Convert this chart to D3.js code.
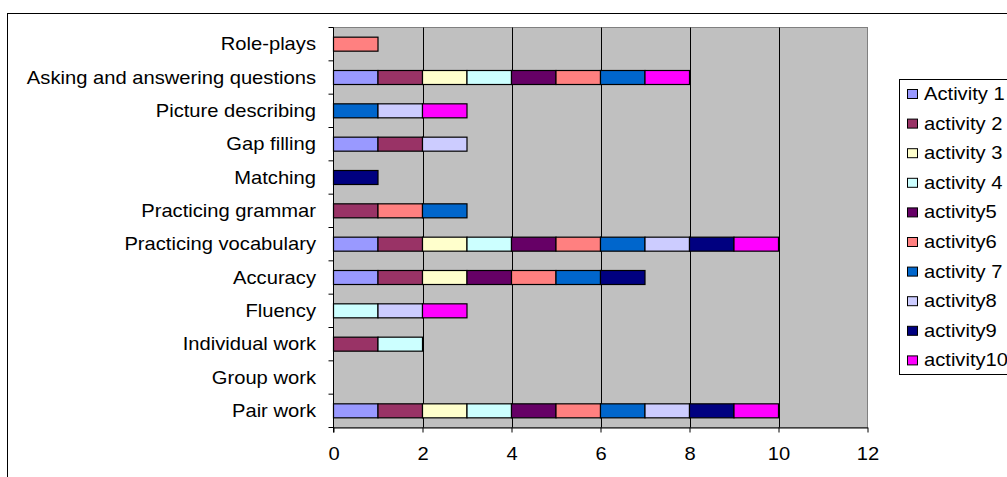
<!DOCTYPE html>
<html>
<head>
<meta charset="utf-8">
<script src="https://cdn.jsdelivr.net/npm/d3@7"></script>
<style>
  html, body { margin: 0; padding: 0; background: #fff; }
  svg { display: block; font-family: "Liberation Sans", Arial, sans-serif; }
</style>
</head>
<body>
<svg id="chart" width="1007" height="477"></svg>
<script>
// Categories, listed top to bottom
const categories = [
  "Role-plays",
  "Asking and answering questions",
  "Picture describing",
  "Gap filling",
  "Matching",
  "Practicing grammar",
  "Practicing vocabulary",
  "Accuracy",
  "Fluency",
  "Individual work",
  "Group work",
  "Pair work"
];

// Series names as shown in the legend
const seriesNames = ["Activity 1", "activity 2", "activity 3", "activity 4", "activity5",
                     "activity6", "activity 7", "activity8", "activity9", "activity10"];

// One value per category (same order as categories)
const activity1  = [0, 1, 0, 1, 0, 0, 1, 1, 0, 0, 0, 1];
const activity2  = [0, 1, 0, 1, 0, 1, 1, 1, 0, 1, 0, 1];
const activity3  = [0, 1, 0, 0, 0, 0, 1, 1, 0, 0, 0, 1];
const activity4  = [0, 1, 0, 0, 0, 0, 1, 0, 1, 1, 0, 1];
const activity5  = [0, 1, 0, 0, 0, 0, 1, 1, 0, 0, 0, 1];
const activity6  = [1, 1, 0, 0, 0, 1, 1, 1, 0, 0, 0, 1];
const activity7  = [0, 1, 1, 0, 0, 1, 1, 1, 0, 0, 0, 1];
const activity8  = [0, 0, 1, 1, 0, 0, 1, 0, 1, 0, 0, 1];
const activity9  = [0, 0, 0, 0, 1, 0, 1, 1, 0, 0, 0, 1];
const activity10 = [0, 1, 1, 0, 0, 0, 1, 0, 1, 0, 0, 1];

const seriesValues = [activity1, activity2, activity3, activity4, activity5,
                      activity6, activity7, activity8, activity9, activity10];

const xTicks = [0, 2, 4, 6, 8, 10, 12];

const colors = ["#9999FF", "#993366", "#FFFFCC", "#CCFFFF", "#660066",
                "#FF8080", "#0066CC", "#CCCCFF", "#000080", "#FF00FF"];

// Text is drawn slightly wide, as in the original spreadsheet export
const FONT = 18;
const STRETCH = 1.12;

// Build rows for d3.stack
const rows = categories.map((c, i) => {
  const r = { category: c };
  seriesNames.forEach((s, j) => { r[s] = seriesValues[j][i]; });
  return r;
});
const stacked = d3.stack().keys(seriesNames)(rows);

const svg = d3.select("#chart");

// Outer chart frame
svg.append("rect")
  .attr("x", 7.5).attr("y", 13.5)
  .attr("width", 1100).attr("height", 600)
  .attr("fill", "#fff").attr("stroke", "#000").attr("stroke-width", 1);

const plot = { left: 333.5, right: 867.5, top: 27.5, bottom: 427.5 };

const x = d3.scaleLinear().domain([0, 12]).range([plot.left, plot.right]);
const y = d3.scaleBand().domain(categories).range([plot.top, plot.bottom]).paddingInner(0).paddingOuter(0);
const barH = 14;

// Plot area background
svg.append("rect")
  .attr("x", plot.left).attr("y", plot.top)
  .attr("width", plot.right - plot.left).attr("height", plot.bottom - plot.top)
  .attr("fill", "#C0C0C0").attr("stroke", "#808080").attr("stroke-width", 1);

// Vertical gridlines
svg.append("g")
  .selectAll("line")
  .data(xTicks.filter(t => t > 0 && t < 12))
  .join("line")
  .attr("x1", d => Math.round(x(d)) + 0.5).attr("x2", d => Math.round(x(d)) + 0.5)
  .attr("y1", plot.top).attr("y2", plot.bottom)
  .attr("stroke", "#000").attr("stroke-width", 1);

// Stacked bars
const layer = svg.append("g")
  .selectAll("g")
  .data(stacked)
  .join("g")
  .attr("fill", (d, i) => colors[i]);

layer.selectAll("rect")
  .data(d => d.filter(p => p[1] - p[0] > 0))
  .join("rect")
  .attr("x", p => x(p[0]))
  .attr("width", p => x(p[1]) - x(p[0]))
  .attr("y", p => y(p.data.category) + (y.bandwidth() - barH) / 2)
  .attr("height", barH)
  .attr("stroke", "#000").attr("stroke-width", 1.2);

// Category axis (ticks between categories)
const yAxisG = svg.append("g");
yAxisG.append("line")
  .attr("x1", plot.left).attr("x2", plot.left)
  .attr("y1", plot.top).attr("y2", plot.bottom + 5)
  .attr("stroke", "#000");
const bounds = d3.range(categories.length + 1).map(i => plot.top + i * y.step());
yAxisG.selectAll("line.tick")
  .data(bounds)
  .join("line").attr("class", "tick")
  .attr("x1", plot.left - 5).attr("x2", plot.left)
  .attr("y1", d => d).attr("y2", d => d)
  .attr("stroke", "#000");
yAxisG.selectAll("text")
  .data(categories)
  .join("text")
  .attr("transform", d => `translate(316,${y(d) + y.bandwidth() / 2 + 6}) scale(${STRETCH},1)`)
  .attr("text-anchor", "end")
  .attr("font-size", FONT)
  .attr("fill", "#000")
  .text(d => d);

// Value axis
const xAxis = d3.axisBottom(x).tickValues(xTicks).tickSize(5).tickSizeOuter(0).tickPadding(15);
const xAxisG = svg.append("g")
  .attr("transform", `translate(0,${plot.bottom})`)
  .call(xAxis);
xAxisG.select(".domain").attr("stroke", "#000");
xAxisG.selectAll(".tick line").attr("stroke", "#000");
xAxisG.selectAll(".tick text")
  .attr("font-size", FONT)
  .attr("font-family", "Liberation Sans, Arial, sans-serif")
  .attr("fill", "#000")
  .attr("transform", `scale(${STRETCH},1)`)
  .attr("x", 0);

// Legend
const legend = svg.append("g");
legend.append("rect")
  .attr("x", 899.5).attr("y", 79.5)
  .attr("width", 200).attr("height", 295)
  .attr("fill", "#fff").attr("stroke", "#000").attr("stroke-width", 1);
const item = legend.selectAll("g.item")
  .data(seriesNames)
  .join("g").attr("class", "item")
  .attr("transform", (d, i) => `translate(0,${94 + i * 29.6})`);
item.append("rect")
  .attr("x", 907.5).attr("y", -4.5)
  .attr("width", 10).attr("height", 9)
  .attr("fill", (d, i) => colors[i])
  .attr("stroke", "#000").attr("stroke-width", 1);
item.append("text")
  .attr("transform", `translate(924,6) scale(${STRETCH},1)`)
  .attr("font-size", FONT)
  .attr("fill", "#000")
  .text(d => d);
</script>
</body>
</html>
